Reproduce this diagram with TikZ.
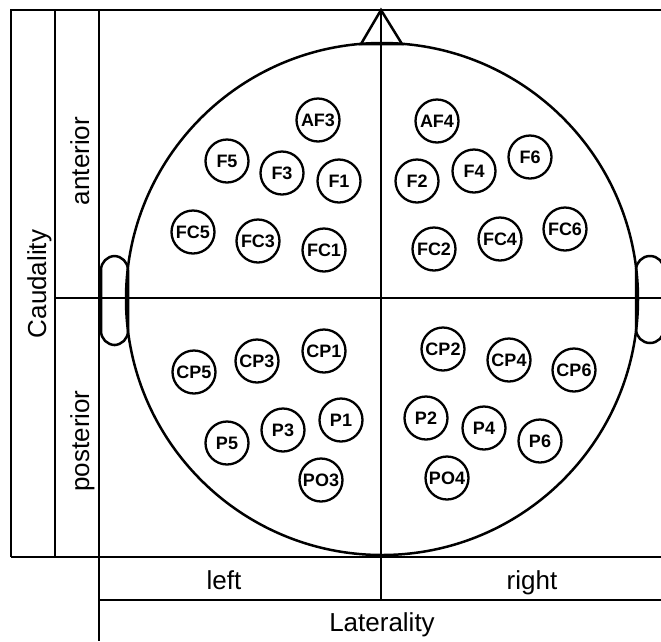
\documentclass[tikz,border=0pt]{standalone}
\usepackage{fontspec}
\setmainfont{Liberation Sans}
\begin{document}
\begin{tikzpicture}[x=1pt,y=-1pt,
  frame/.style={line width=2.5pt},
  elec/.style={circle,draw,line width=2.3pt,minimum size=43pt,inner sep=0pt,font=\fontsize{18}{18}\selectfont\bfseries},
  lbl/.style={font=\fontsize{26}{26}\selectfont,anchor=base}]
\useasboundingbox (0,0) rectangle (661,641);
\clip (0,0) rectangle (661,641);
% frame lines
\draw[frame] (11,557) -- (11,10) -- (670,10);
\draw[frame] (55,10) -- (55,557);
\draw[frame] (99,10) -- (99,641);
\draw[frame] (11,557) -- (670,557);
\draw[frame] (99,600) -- (670,600);
\draw[frame] (55,298) -- (670,298);
\draw[frame] (381,10) -- (381,600);
% head
\coordinate (hc) at (382,299);
\draw[frame] (hc) circle (256);
\draw[frame] (361,44) -- (381,10) -- (402,44) -- cycle;
\draw[frame,rounded corners=14pt] (101,256) rectangle (128,345);
\draw[frame,rounded corners=14pt] (636,256) rectangle (664,343);
% labels
\node[lbl,rotate=90] (caud) at (46,284) {Caudality};
\node[lbl,rotate=90] (ant) at (89,161) {anterior};
\node[lbl,rotate=90] (post) at (89,441) {posterior};
\node[lbl] (left) at (224,589) {left};
\node[lbl] (right) at (532,589) {right};
\node[lbl] (lat) at (382,631) {Laterality};
% electrodes
\node[elec] (AF3) at (318,120) {AF3};
\node[elec] (F5) at (227,161) {F5};
\node[elec] (F3) at (282,173) {F3};
\node[elec] (F1) at (339,181) {F1};
\node[elec] (FC5) at (193,232) {FC5};
\node[elec] (FC3) at (258,241) {FC3};
\node[elec] (FC1) at (324,250) {FC1};
\node[elec] (AF4) at (437,121) {AF4};
\node[elec] (F2) at (417,181) {F2};
\node[elec] (F4) at (474,171) {F4};
\node[elec] (F6) at (530,157) {F6};
\node[elec] (FC2) at (434,249) {FC2};
\node[elec] (FC4) at (500,239) {FC4};
\node[elec] (FC6) at (565,229) {FC6};
\node[elec] (CP1) at (324,351) {CP1};
\node[elec] (CP3) at (257,361) {CP3};
\node[elec] (CP5) at (194,372) {CP5};
\node[elec] (P1) at (341,420) {P1};
\node[elec] (P3) at (283,430) {P3};
\node[elec] (P5) at (227,443) {P5};
\node[elec] (PO3) at (321,480) {PO3};
\node[elec] (CP2) at (443,349) {CP2};
\node[elec] (CP4) at (509,360) {CP4};
\node[elec] (CP6) at (574,370) {CP6};
\node[elec] (P2) at (426,418) {P2};
\node[elec] (P4) at (484,428) {P4};
\node[elec] (P6) at (540,441) {P6};
\node[elec] (PO4) at (447,478) {PO4};
\end{tikzpicture}
\end{document}
